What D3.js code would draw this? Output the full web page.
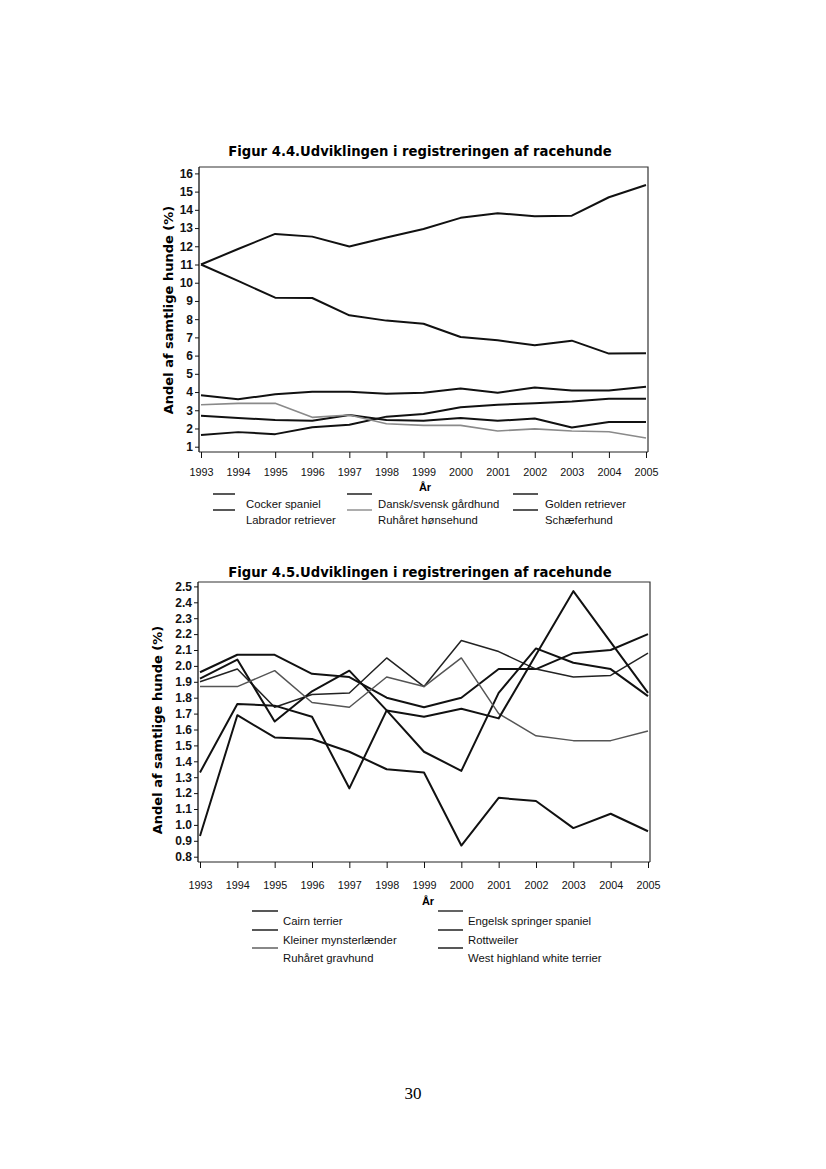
<!DOCTYPE html>
<html><head><meta charset="utf-8">
<script src="https://cdn.jsdelivr.net/npm/d3@7"></script>
<style>
body{margin:0;background:#fff;}
svg{display:block;}
</style></head>
<body>
<script>
// ---------- DATA ----------
const years = [1993,1994,1995,1996,1997,1998,1999,2000,2001,2002,2003,2004,2005];

// Figur 4.4
const fig1Names = ["Cocker spaniel","Dansk/svensk gårdhund","Golden retriever","Labrador retriever","Ruhåret hønsehund","Schæferhund"];
const cockerSpaniel   = [2.70,2.58,2.47,2.42,2.74,2.47,2.42,2.58,2.42,2.55,2.05,2.36,2.36];
const danskSvensk     = [1.64,1.80,1.69,2.07,2.20,2.65,2.79,3.17,3.30,3.39,3.48,3.63,3.63];
const goldenRetriever = [3.83,3.60,3.88,4.01,4.01,3.90,3.96,4.20,3.96,4.25,4.09,4.09,4.29];
const labrador        = [11.0,11.85,12.68,12.53,11.99,12.48,12.95,13.56,13.81,13.65,13.68,14.69,15.36];
const ruharetHonse    = [3.30,3.38,3.38,2.61,2.74,2.26,2.17,2.17,1.86,1.98,1.86,1.82,1.48];
const schaeferhund    = [11.0,10.1,9.18,9.16,8.21,7.92,7.75,7.02,6.84,6.57,6.82,6.11,6.13];
const fig1Ticks = [1,2,3,4,5,6,7,8,9,10,11,12,13,14,15,16];

// Figur 4.5
const fig2Names = ["Cairn terrier","Engelsk springer spaniel","Kleiner mynsterlænder","Rottweiler","Ruhåret gravhund","West highland white terrier"];
const cairn       = [1.96,2.07,2.07,1.95,1.93,1.80,1.74,1.80,1.98,1.98,2.08,2.10,2.20];
const engelsk     = [1.90,1.98,1.74,1.82,1.83,2.05,1.87,2.16,2.09,1.98,1.93,1.94,2.08];
const kleiner     = [0.93,1.69,1.55,1.54,1.46,1.35,1.33,0.87,1.17,1.15,0.98,1.07,0.96];
const rottweiler  = [1.92,2.04,1.65,1.84,1.97,1.72,1.46,1.34,1.83,2.11,2.02,1.98,1.81];
const gravhund    = [1.87,1.87,1.97,1.77,1.74,1.93,1.87,2.05,1.70,1.56,1.53,1.53,1.59];
const westie      = [1.33,1.76,1.75,1.68,1.23,1.72,1.68,1.73,1.67,2.07,2.47,2.15,1.83];
const fig2Ticks = [0.8,0.9,1.0,1.1,1.2,1.3,1.4,1.5,1.6,1.7,1.8,1.9,2.0,2.1,2.2,2.3,2.4,2.5];

const W = 826, H = 1169;
const svg = d3.select("body").append("svg").attr("width",W).attr("height",H);

const titleFont = "'DejaVu Sans', Verdana, sans-serif";
const labFont = "'Liberation Sans', Arial, sans-serif";

function chart(cfg){
  const g = svg.append("g");
  const x = d3.scaleLinear().domain([years[0], years[years.length-1]]).range([cfg.x0, cfg.x1]);
  const y = d3.scaleLinear().domain([cfg.ticks[0], cfg.ticks[cfg.ticks.length-1]]).range([cfg.yb, cfg.yt]);

  // title
  g.append("text").attr("x", cfg.titleX).attr("y", cfg.titleY)
    .attr("text-anchor","middle").attr("font-family",titleFont).attr("font-weight","bold")
    .attr("font-size",13.2).text(cfg.title);

  // frame (top & right)
  g.append("path").attr("d",`M${cfg.fl},${cfg.ft}H${cfg.fr}V${cfg.fb}`)
    .attr("fill","none").attr("stroke","#333").attr("stroke-width",1.2);

  // y axis
  const ya = d3.axisLeft(y).tickValues(cfg.ticks).tickSize(4).tickSizeOuter(0)
    .tickFormat(cfg.fmt);
  const yg = g.append("g").attr("transform",`translate(${cfg.fl},0)`).call(ya);
  yg.select(".domain").remove();
  g.append("line").attr("x1",cfg.fl).attr("x2",cfg.fl).attr("y1",cfg.ft).attr("y2",cfg.fb)
    .attr("stroke","#111").attr("stroke-width",1.3);
  yg.selectAll("text").attr("font-family",labFont).attr("font-weight","bold")
    .attr("font-size",12).attr("fill","#111").attr("x",-6);
  yg.selectAll("line").attr("stroke","#111");

  // x axis
  const xa = d3.axisBottom(x).tickValues(years).tickSize(6).tickSizeOuter(0).tickFormat(d3.format("d"));
  const xg = g.append("g").attr("transform",`translate(0,${cfg.fb})`).call(xa);
  xg.select(".domain").attr("d",`M${cfg.fl},0H${cfg.fr}`).attr("stroke","#222");
  xg.selectAll("line").attr("stroke","#111");
  xg.selectAll("text").attr("font-family",labFont).attr("font-size",10.8).attr("fill","#111")
    .attr("y",cfg.yearDy).attr("dy",0);

  // axis titles
  g.append("text").attr("x",cfg.axX).attr("y",cfg.axY).attr("text-anchor","middle")
    .attr("font-family",labFont).attr("font-weight","bold").attr("font-size",11).text("År");
  g.append("text").attr("transform",`translate(${cfg.ylabX},${cfg.ylabY}) rotate(-90)`)
    .attr("text-anchor","middle").attr("font-family",titleFont).attr("font-weight","bold")
    .attr("font-size",13).text("Andel af samtlige hunde (%)");

  // lines
  const line = d3.line().x((d,i)=>x(years[i])).y(d=>y(d));
  cfg.series.forEach(s=>{
    g.append("path").datum(s.values).attr("d",line).attr("fill","none")
      .attr("stroke",s.color).attr("stroke-width",s.w).attr("stroke-linejoin","round");
  });

  // legend
  cfg.legend.forEach((L,i)=>{
    const s = cfg.series[i];
    g.append("line").attr("x1",L.lx).attr("x2",L.lx+L.len).attr("y1",L.ty-10).attr("y2",L.ty-10)
      .attr("stroke",s.color).attr("stroke-width",1.4);
    g.append("text").attr("x",L.tx).attr("y",L.ty+4).attr("font-family",labFont)
      .attr("font-size",11.3).attr("fill","#111").text(s.name);
  });
}

const fig1Colors = ["#111","#111","#111","#111","#8a8a8a","#111"];
const fig1Values = [cockerSpaniel,danskSvensk,goldenRetriever,labrador,ruharetHonse,schaeferhund];
chart({
  title:"Figur 4.4.Udviklingen i registreringen af racehunde", titleX:420, titleY:156,
  x0:201, x1:646, yt:173.4, yb:446.7, ticks:fig1Ticks, fmt:d3.format("d"),
  fl:199, fr:648, ft:167, fb:452, yearDy:24,
  axX:425, axY:491, ylabX:173, ylabY:310,
  series: fig1Names.map((n,i)=>({name:n, values:fig1Values[i], color:fig1Colors[i], w:i===4?1.6:2})),
  legend:[
    {lx:213,len:22,tx:246,ty:504},{lx:347,len:25,tx:378,ty:504},{lx:513,len:25,tx:545,ty:504},
    {lx:213,len:22,tx:246,ty:520},{lx:347,len:25,tx:378,ty:520},{lx:513,len:25,tx:545,ty:520}
  ]
});

const fig2Colors = ["#111","#222","#111","#111","#555","#111"];
const fig2Values = [cairn,engelsk,kleiner,rottweiler,gravhund,westie];
chart({
  title:"Figur 4.5.Udviklingen i registreringen af racehunde", titleX:420, titleY:577,
  x0:200, x1:648, yt:586.4, yb:856.7, ticks:fig2Ticks, fmt:d3.format(".1f"),
  fl:198, fr:650, ft:582, fb:862, yearDy:27,
  axX:428, axY:905, ylabX:162, ylabY:730,
  series: fig2Names.map((n,i)=>({name:n, values:fig2Values[i], color:fig2Colors[i], w:(i===4||i===1)?1.5:2})),
  legend:[
    {lx:252,len:26,tx:283,ty:921},{lx:438,len:25,tx:468,ty:921},
    {lx:252,len:26,tx:283,ty:940},{lx:438,len:25,tx:468,ty:940},
    {lx:252,len:26,tx:283,ty:958},{lx:438,len:25,tx:468,ty:958}
  ]
});
// page number
svg.append("text").attr("x",413).attr("y",1099).attr("text-anchor","middle")
  .attr("font-family","'Liberation Serif','Times New Roman',serif").attr("font-size",17).text("30");
</script>
</body></html>
